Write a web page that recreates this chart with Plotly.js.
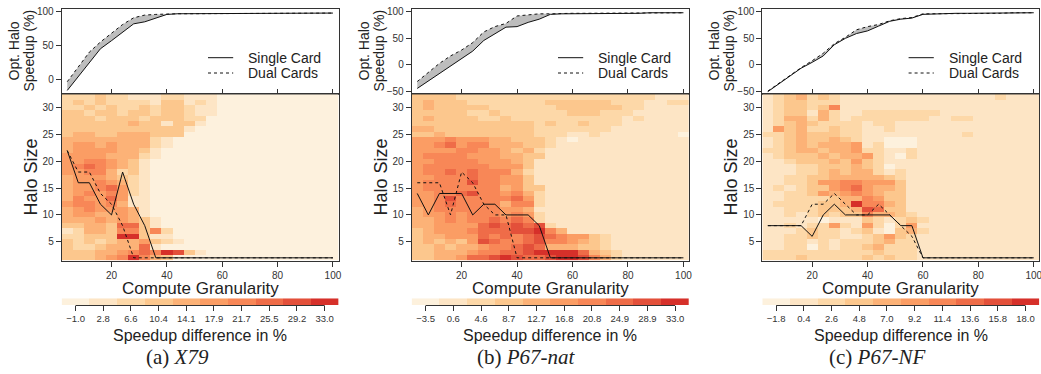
<!DOCTYPE html>
<html><head><meta charset="utf-8">
<script src="https://cdn.plot.ly/plotly-3.0.1.min.js"></script>
<style>html,body{margin:0;padding:0;background:#fff}#chart{width:1041px;height:374px}</style>
</head><body><div id="chart"></div>
<script>
// ---------- data ----------
const granularity = [4,8,12,16,20,24,28,32,36,40,44,48,52,56,60,64,68,72,76,80,84,88,92,96,100];
const haloSizes = [2,3,4,5,6,7,8,9,10,11,12,13,14,15,16,17,18,19,20,21,22,23,24,25,26,27,28,29,30,31,32];

// colour-bin labels of each panel (bin centres, % speedup difference)
const x79Bins    = [-1.0, 2.8, 6.6, 10.4, 14.1, 17.9, 21.7, 25.5, 29.2, 33.0];
const p67natBins = [-3.5, 0.6, 4.6, 8.7, 12.7, 16.8, 20.8, 24.9, 28.9, 33.0];
const p67nfBins  = [-1.8, 0.4, 2.6, 4.8, 7.0, 9.2, 11.4, 13.6, 15.8, 18.0];
const binColors = ['#fdf1dd','#fde5c5','#fdd8a8','#fcc78d','#fcb277','#fb9d64','#f88757','#ef6c48','#e3503a','#d6302a'];

// top panels: optimal halo speedup (%)
const x79Single    = [-17,4,25,45,57,70,82,85,91,96,97,97,97,97,97,97,97,97,98,98,98,98,98,98,98];
const x79Dual      = [-4,18,40,55,68,81,91,95,96,97,97,97,97,97,97,97,97,97,98,98,98,98,98,98,98];
const p67natSingle = [-44,-30,-16,-3,12,26,46,58,71,72,80,86,95,96,96,97,97,97,97,97,97,98,98,98,98];
const p67natDual   = [-31,-14,3,17,28,42,62,72,78,92,94,96,96,97,97,97,97,97,97,97,97,98,98,98,98];
const p67nfSingle  = [-50,-35,-20,-6,5,17,38,50,59,64,73,82,86,88,95,96,96,97,97,97,97,97,98,98,98];
const p67nfDual    = [-49,-34,-19,-5,8,22,40,52,66,72,76,83,87,89,96,96,96,97,97,97,97,97,98,98,98];

// optimal halo size per granularity (heatmap overlay)
const x79HaloSingle    = [22,16,16,12,10,18,12,8,2,2,2,2,2,2,2,2,2,2,2,2,2,2,2,2,2];
const x79HaloDual      = [22,18,18,14,12,8,2,2,2,2,2,2,2,2,2,2,2,2,2,2,2,2,2,2,2];
const p67natHaloSingle = [14,10,14,14,14,10,12,12,10,10,10,8,2,2,2,2,2,2,2,2,2,2,2,2,2];
const p67natHaloDual   = [16,16,16,10,18,16,12,10,10,2,2,2,2,2,2,2,2,2,2,2,2,2,2,2,2];
const p67nfHaloSingle  = [8,8,8,8,6,10,12,10,10,10,10,10,8,8,2,2,2,2,2,2,2,2,2,2,2];
const p67nfHaloDual    = [8,8,8,8,12,12,14,12,10,10,12,10,8,6,2,2,2,2,2,2,2,2,2,2,2];

// heatmap colour-bin index per cell, rows from halo size 32 (top) down to 2
const x79Levels = [
"2223221112211100000000000","2323222213312100000000000","2232322323321100000000000",
"3323323323321100000000000","3332333233322000000000000","3333334331331000000000000",
"3333333333310000000000000","3443344433300000000000000","4444444421000000000000000",
"4554544421000000000000000","4555544310000000000000000","5555444210000000000000000",
"5566543100000000000000000","5676543100000000000000000","5566423100000000000000000",
"4555432100000000000000000","4556542100000000000000000","4556752100000000000000000",
"4565652100000000000000000","4655751100000000000000000","5665641100000000000000000",
"4565554100000000000000000","4554454100000000000000000","4445454310000000000000000",
"3344377310000000000000000","1244366362000000000000000","2233399311000000000000000",
"3232344532100000000000000","3223444710000000000000000","3334456769831000000000000",
"3334569643000000000000000"];
const p67natLevels = [
"3333222222222222222222111","3433322222223333332221122","3433333222222333333221111",
"3333322322222233322211111","3433332232222222222121111","3333333333323223222111111",
"4433333333322222221111111","3343333333322211211111110","5556555443332101111111111",
"5567566444332111111111111","5555665543421111111111111","5666655544331111111111111",
"5566665554311111111111111","5666666555311111111111111","5667676664211111111111111",
"5566676655311111111111111","5666686655311111111111111","5666666645331111111111111",
"5566786656421111111111111","5568666667521111111111111","5567666646621111111111111",
"4566666655411111111111111","4556566656521111111111111","4456566767621111111111111",
"4455557878782111111111111","3455567778896411111111111","3445557676787655321111111",
"3434358766786654321111111","3343445667874443321111111","3344456677899997432111111",
"3344577898778998642111111"];
const p67nfLevels = [
"1234232111111111111112111","1233222111111111111111111","1233236111111111111111111",
"1233142112222222111111111","1244242122222221122111111","1234322221221111111111111",
"1534223221121111111111111","2234333221111111112111111","1234334321100011111111111",
"1234344451200011111111111","2234434452211211111111111","1233343445210211111111111",
"1123334353211111111111111","1112233343201111111111111","1112234344212111111111111",
"1122334444432111111111111","1122355665553111111111111","1212335675443111111111111",
"1122354565433111111111111","1122223446533111111111111","1222233496643111111111111",
"1122233348733111111111111","1121232336443211111111111","1111101113212321111111111",
"1121225215202511111111111","1112322123103421111111111","1122322112353211111111111",
"1122121222342211111111111","1122021223422211111111111","2222222222322211111111111",
"2223222223232211111111111"];

const panelNames = ['X79','P67-nat','P67-NF'];
const panelLetters = ['(a)','(b)','(c)'];
const legendLabels = ['Single Card','Dual Cards'];

// ---------- layout helpers ----------
const W = 1041, H = 374;
const fx = v => v / W, fy = v => 1 - v / H;
const FONT = 'Liberation Sans, Arial, Helvetica, sans-serif';
const panels = [
  {single:x79Single, dual:x79Dual, hs:x79HaloSingle, hd:x79HaloDual, lv:x79Levels, bins:x79Bins,
   yr:[-22.7,103.6], yt:[0,50,100], L:61.7, R:338.5, ox:0, cap:177},
  {single:p67natSingle, dual:p67natDual, hs:p67natHaloSingle, hd:p67natHaloDual, lv:p67natLevels, bins:p67natBins,
   yr:[-55,104.5], yt:[-50,0,50,100], L:411.7, R:689, ox:350, cap:526},
  {single:p67nfSingle, dual:p67nfDual, hs:p67nfHaloSingle, hd:p67nfHaloDual, lv:p67nfLevels, bins:p67nfBins,
   yr:[-55,104.5], yt:[-50,0,50,100], L:762.3, R:1039.3, ox:700, cap:877}
];

const data = [], annotations = [], shapes = [];
const layout = {width:W, height:H, margin:{l:0,r:0,t:0,b:0}, paper_bgcolor:'#fff', plot_bgcolor:'#fff',
  showlegend:false, font:{family:FONT, color:'#222'}};
const tickfont = {family:FONT, size:10, color:'#333'};
const frame = {showline:true, mirror:true, linecolor:'#333', linewidth:1, showgrid:false, zeroline:false,
  tickcolor:'#333', ticklabeloverflow:'allow'};

panels.forEach((p, i) => {
  const n1 = 3*i+1, n2 = 3*i+2, n3 = 3*i+3;
  const ax = n => n === 1 ? '' : n;
  const dom = [fx(p.L), fx(p.R)];
  const step = (p.bins[9] - p.bins[0]) / 9;
  const zmin = p.bins[0] - step/2, zmax = p.bins[9] + step/2;
  const cs = [];
  binColors.forEach((c, k) => { cs.push([k/10, c]); cs.push([(k+1)/10, c]); });

  // top panel
  layout['xaxis'+ax(n1)] = Object.assign({}, frame, {domain:dom, range:[2,102], anchor:'y'+ax(n1),
    ticks:'inside', ticklen:5, tickvals:[20,40,60,80,100], showticklabels:false});
  layout['yaxis'+ax(n1)] = Object.assign({}, frame, {domain:[fy(94.3), fy(9.3)], range:p.yr, anchor:'x'+ax(n1),
    ticks:'outside', ticklen:5, tickvals:p.yt, tickfont:tickfont});
  data.push({type:'scatter', mode:'lines', x:granularity, y:p.single, xaxis:'x'+ax(n1), yaxis:'y'+ax(n1),
    line:{color:'#111', width:1}, hoverinfo:'skip'});
  data.push({type:'scatter', mode:'lines', x:granularity, y:p.dual, xaxis:'x'+ax(n1), yaxis:'y'+ax(n1),
    line:{color:'#111', width:1, dash:'3px,3px'}, fill:'tonexty', fillcolor:'#bdbdbd', hoverinfo:'skip'});

  // heatmap
  layout['xaxis'+n2] = Object.assign({}, frame, {domain:dom, range:[2,102], anchor:'y'+n2,
    ticks:'outside', ticklen:5, tickvals:[20,40,60,80,100], tickfont:tickfont});
  layout['yaxis'+n2] = Object.assign({}, frame, {domain:[fy(260.5), fy(94.3)], range:[1.5,32.5], anchor:'x'+n2,
    ticks:'outside', ticklen:5, tickvals:[5,10,15,20,25,30], tickfont:tickfont});
  const z = p.lv.slice().reverse().map(s => s.split('').map(c => p.bins[+c]));
  data.push({type:'heatmap', x:granularity, y:haloSizes, z:z, xaxis:'x'+n2, yaxis:'y'+n2,
    colorscale:cs, zmin:zmin, zmax:zmax, showscale:false, hoverinfo:'skip'});
  data.push({type:'scatter', mode:'lines', x:granularity, y:p.hs, xaxis:'x'+n2, yaxis:'y'+n2,
    line:{color:'#111', width:1}, hoverinfo:'skip'});
  data.push({type:'scatter', mode:'lines', x:granularity, y:p.hd, xaxis:'x'+n2, yaxis:'y'+n2,
    line:{color:'#111', width:1, dash:'3px,3px'}, hoverinfo:'skip'});

  // colour key strip
  layout['xaxis'+n3] = {domain:dom, range:[-0.5,9.5], anchor:'y'+n3, showline:false, showgrid:false, zeroline:false,
    ticks:'outside', ticklen:5, tickcolor:'#333', tickvals:[0,1,2,3,4,5,6,7,8,9], ticklabeloverflow:'allow',
    ticktext:p.bins.map(v => v.toFixed(1).replace('-', '\u2212')),
    tickfont:{family:FONT, size:9.5, color:'#333'}};
  layout['yaxis'+n3] = {domain:[fy(305), fy(298.3)], range:[-0.5,0.5], anchor:'x'+n3, visible:false};
  data.push({type:'heatmap', x:[0,1,2,3,4,5,6,7,8,9], y:[0], z:[p.bins], xaxis:'x'+n3, yaxis:'y'+n3,
    colorscale:cs, zmin:zmin, zmax:zmax, showscale:false, hoverinfo:'skip'});
  shapes.push({type:'line', xref:'x'+n3, yref:'paper', x0:0, x1:9, y0:fy(305.5), y1:fy(305.5),
    line:{color:'#333', width:1}});

  // legend of the top panel
  [57.7, 73].forEach((yy, k) => {
    shapes.push({type:'line', xref:'paper', yref:'paper', x0:fx(p.L+146.3), x1:fx(p.L+171.5), y0:fy(yy), y1:fy(yy),
      line:{color:'#111', width:1, dash: k ? '3px,3px' : 'solid'}});
    annotations.push({xref:'paper', yref:'paper', x:fx(p.L+184.5), y:fy(yy), xanchor:'left', yanchor:'middle',
      text:legendLabels[k], showarrow:false, font:{family:FONT, size:14, color:'#222'}});
  });

  // titles
  const t = (text, x, y, size, extra) => annotations.push(Object.assign({xref:'paper', yref:'paper', x:fx(x), y:fy(y),
    xanchor:'center', yanchor:'middle', text:text, showarrow:false, font:{family:FONT, size:size, color:'#222'}}, extra||{}));
  t('Opt. Halo', p.ox+13.5, 51, 14, {textangle:-90});
  t('Speedup (%)', p.ox+28.5, 51, 14, {textangle:-90});
  t('Halo Size', p.ox+30, 177.5, 18, {textangle:-90});
  t('Compute Granularity', (p.L+p.R)/2, 288.5, 17);
  t('Speedup difference in %', (p.L+p.R)/2, 335, 16);
  annotations.push({xref:'paper', yref:'paper', x:fx(p.cap), y:fy(357), xanchor:'center', yanchor:'middle',
    text:panelLetters[i] + ' <i>' + panelNames[i] + '</i>', showarrow:false,
    font:{family:'Liberation Serif, Times New Roman, serif', size:21, color:'#222'}});
});
layout.annotations = annotations;
layout.shapes = shapes;
Plotly.newPlot('chart', data, layout, {staticPlot:true, displayModeBar:false});
</script></body></html>
